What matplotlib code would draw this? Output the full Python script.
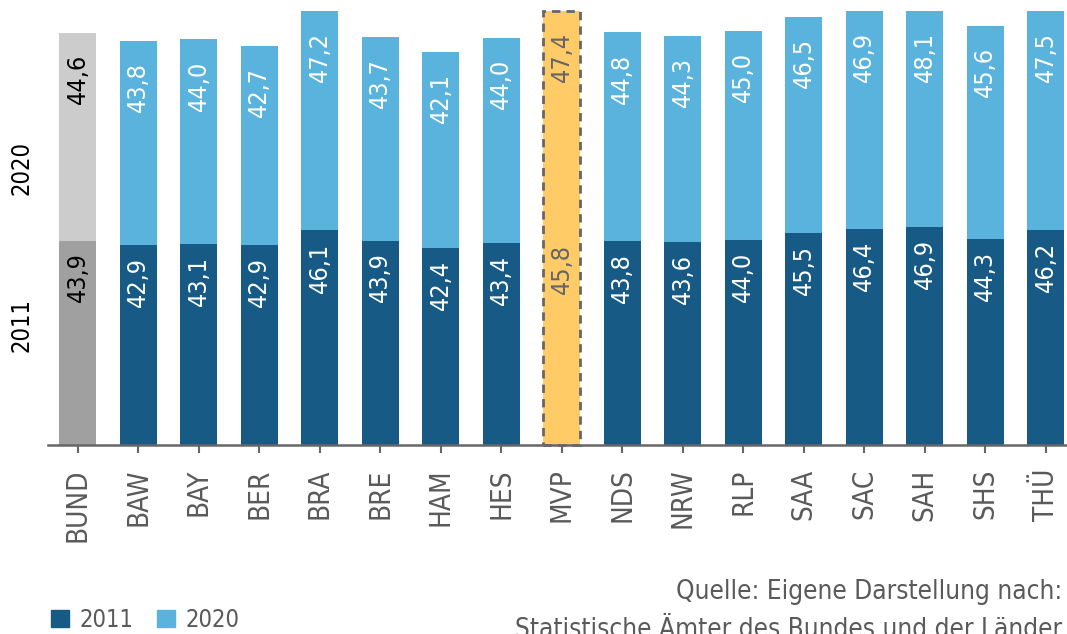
import matplotlib
matplotlib.use("Agg")
import matplotlib.pyplot as plt
from matplotlib.patches import Patch

# Daten
laender = ["BUND", "BAW", "BAY", "BER", "BRA", "BRE", "HAM", "HES", "MVP",
           "NDS", "NRW", "RLP", "SAA", "SAC", "SAH", "SHS", "THÜ"]
werte_2011 = [43.9, 42.9, 43.1, 42.9, 46.1, 43.9, 42.4, 43.4, 45.8,
              43.8, 43.6, 44.0, 45.5, 46.4, 46.9, 44.3, 46.2]
werte_2020 = [44.6, 43.8, 44.0, 42.7, 47.2, 43.7, 42.1, 44.0, 47.4,
              44.8, 44.3, 45.0, 46.5, 46.9, 48.1, 45.6, 47.5]

dunkelblau = "#175a85"
hellblau = "#5ab3dc"
grau = "#666666"
textgrau = "#5a5a5a"
ymax = 93.2

plt.rcParams["font.family"] = "DejaVu Sans"
plt.rcParams["font.stretch"] = "condensed"

fig = plt.figure(figsize=(10.67, 6.34), dpi=100)
ax = fig.add_axes([48 / 1067, 1 - 445 / 634, 1 - 48 / 1067, 434 / 634])

x = list(range(len(laender)))
b = 0.61
for i, land in enumerate(laender):
    unten, oben = werte_2011[i], werte_2020[i]
    if land == "BUND":
        f1, f2, tc = "#a0a0a0", "#cccccc", "black"
    elif land == "MVP":
        f1, f2, tc = "#ffcb66", "#ffcb66", grau
    else:
        f1, f2, tc = dunkelblau, hellblau, "white"
    ax.bar(i, unten, width=b, color=f1, zorder=2)
    ax.bar(i, oben, bottom=unten, width=b, color=f2, zorder=2)
    if land == "MVP":
        # gestrichelter Rahmen um den ganzen Balken
        ax.bar(i, min(unten + oben, ymax), width=b, fill=False, edgecolor=grau,
               linestyle=(0, (3, 2.2)), linewidth=2, zorder=4, clip_on=False)
    ax.annotate(f"{unten:.1f}".replace(".", ","), (i, unten), xytext=(0, -12),
                textcoords="offset pixels", rotation=90, ha="center", va="top",
                fontsize=18, color=tc, zorder=3)
    ax.annotate(f"{oben:.1f}".replace(".", ","), (i, min(unten + oben, ymax)), xytext=(0, -21),
                textcoords="offset pixels", rotation=90, ha="center", va="top",
                fontsize=18, color=tc, zorder=3)

ax.set_xlim(-0.49, 16.35)
ax.set_ylim(0, ymax)
ax.set_xticks(x)
ax.set_xticklabels(laender, rotation=90, fontsize=20, color=textgrau)
ax.tick_params(axis="x", length=6, width=1.5, color=grau, pad=11)
ax.set_yticks([])
for s in ["top", "right", "left"]:
    ax.spines[s].set_visible(False)
ax.spines["bottom"].set_color(grau)
ax.spines["bottom"].set_linewidth(1.8)

# Achsenbeschriftung links
fig.text(22 / 1067, 1 - 168 / 634, "2020", rotation=90, ha="center", va="center", fontsize=17)
fig.text(22 / 1067, 1 - 325 / 634, "2011", rotation=90, ha="center", va="center", fontsize=17)

# Legende
fig.legend(handles=[Patch(color=dunkelblau, label="2011"), Patch(color=hellblau, label="2020")],
           loc="center left", bbox_to_anchor=(30 / 1067, 1 - 620 / 634), ncol=2, frameon=False,
           fontsize=17, labelcolor=textgrau, handlelength=0.75, handleheight=0.75,
           handletextpad=0.45, columnspacing=1.0)

# Quelle
fig.text(1062 / 1067, 1 - 592 / 634, "Quelle: Eigene Darstellung nach:", ha="right", va="center",
         fontsize=18.8, color=textgrau)
fig.text(1062 / 1067, 1 - 630 / 634, "Statistische Ämter des Bundes und der Länder", ha="right",
         va="center", fontsize=18.8, color=textgrau)

fig.savefig("out.png")
